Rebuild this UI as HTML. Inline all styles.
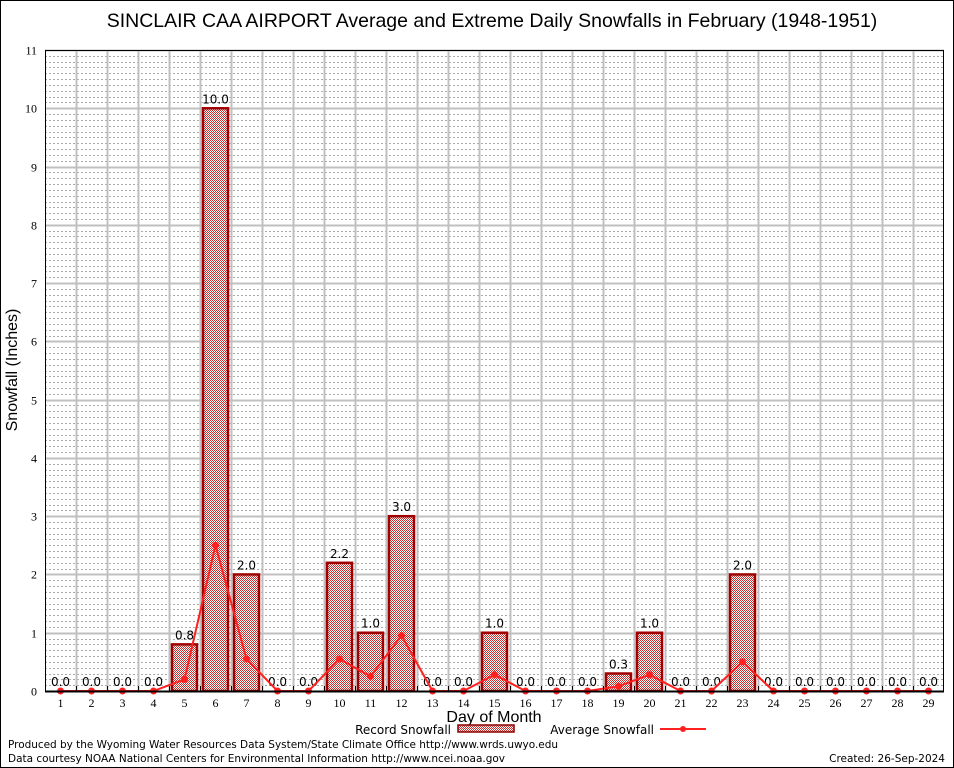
<!DOCTYPE html>
<html><head><meta charset="utf-8"><style>
body{margin:0;background:#fff;}
svg{display:block;font-family:"DejaVu Sans","Liberation Sans",sans-serif;}
</style></head><body>
<svg id="chart" width="954" height="768" viewBox="0 0 954 768">
<defs>
<pattern id="hatch" width="2" height="2" patternUnits="userSpaceOnUse">
<rect width="2" height="2" fill="#fff" shape-rendering="crispEdges"/>
<rect width="1" height="1" fill="#c83030" shape-rendering="crispEdges"/>
<rect x="1" y="1" width="1" height="1" fill="#c83030" shape-rendering="crispEdges"/>
</pattern>
</defs>
<rect x="0.5" y="0.5" width="953" height="767" fill="#fff" stroke="#000"/>
<text x="492" y="27" font-size="19.5" text-anchor="middle" font-family="Liberation Sans, sans-serif">SINCLAIR CAA AIRPORT Average and Extreme Daily Snowfalls in February (1948-1951)</text>
<g id="grid"></g>
<g id="bars"></g>
<g id="line"></g>
<g id="axes"></g>
<text x="17" y="370" font-size="16" text-anchor="middle" transform="rotate(-90 17 370)" font-family="Liberation Sans, sans-serif">Snowfall (Inches)</text>
<text x="494" y="722" font-size="16" text-anchor="middle" font-family="Liberation Sans, sans-serif">Day of Month</text>
<g>
<text x="451" y="734" font-size="12" text-anchor="end">Record Snowfall</text>
<rect x="458" y="725" width="56" height="7" fill="url(#hatch)" stroke="#8b0000" stroke-width="1.5"/>
<text x="654" y="734" font-size="12" text-anchor="end">Average Snowfall</text>
<line x1="660" y1="729" x2="706" y2="729" stroke="#ff2020" stroke-width="2"/>
<circle cx="683" cy="729" r="3" fill="#ff2020"/>
</g>
<text x="8" y="748" font-size="10.5" textLength="550">Produced by the Wyoming Water Resources Data System/State Climate Office http://www.wrds.uwyo.edu</text>
<text x="8" y="762" font-size="10.5" textLength="497">Data courtesy NOAA National Centers for Environmental Information http://www.ncei.noaa.gov</text>
<text x="945" y="762" font-size="10.5" text-anchor="end">Created:  26-Sep-2024</text>
</svg>
<script>
const days=[1,2,3,4,5,6,7,8,9,10,11,12,13,14,15,16,17,18,19,20,21,22,23,24,25,26,27,28,29];
const recordVals=[0,0,0,0,0.8,10,2,0,0,2.2,1,3,0,0,1,0,0,0,0.3,1,0,0,2,0,0,0,0,0,0];
const avgVals=[0,0,0,0,0.2,2.5,0.55,0,0,0.55,0.25,0.95,0,0,0.28,0,0,0,0.08,0.28,0,0,0.5,0,0,0,0,0,0];
const yTicks=[0,1,2,3,4,5,6,7,8,9,10,11];

const L=45,R=944,T=50,B=691,yMax=11;
const slot=(R-L)/days.length;
const x=d=>L+(d-0.5)*slot;
const y=v=>B-(v/yMax)*(B-T);
const NS="http://www.w3.org/2000/svg";
function mk(tag,attrs,parent){const e=document.createElementNS(NS,tag);for(const k in attrs)e.setAttribute(k,attrs[k]);parent.appendChild(e);return e;}
const grid=document.getElementById('grid'),bars=document.getElementById('bars'),line=document.getElementById('line'),axes=document.getElementById('axes');

for(let v=0;v<yMax;v+=0.1){
  const yy=Math.round(y(v))+0.5;
  const g=mk('line',{x1:L,x2:R,y1:yy,y2:yy,stroke:'#aaa','stroke-width':1,'stroke-dasharray':'2,2'},grid);
  
  
}
yTicks.forEach(v=>{
  const yy=Math.round(y(v))+0.5;
  const g=mk('line',{x1:L,x2:R,y1:yy,y2:yy,stroke:'#c0c0c0','stroke-width':2},grid);
  
  
  const t=mk('text',{x:L-8,y:yy+4,'font-size':12,'text-anchor':'end','font-family':'Liberation Serif, serif'},axes);
  t.textContent=v;
  
  
});
for(let i=1;i<days.length;i++){
  const xx=Math.round(L+i*slot)+0.5;
  const g=mk('line',{x1:xx,x2:xx,y1:T,y2:B,stroke:'#c0c0c0','stroke-width':2},grid);
  
  
}
days.forEach((d,i)=>{
  const v=recordVals[i];
  if(v>0){
    const r=mk('rect',{x:x(d)-12.5,y:y(v),width:25,height:B-y(v),fill:'url(#hatch)',stroke:'#a00000','stroke-width':2.5},bars);
    
    
  }
  const t=mk('text',{x:x(d),y:y(v)-5,'font-size':12,'text-anchor':'middle'},bars);
  t.textContent=v.toFixed(1);
  
  
  const xl=mk('text',{x:x(d),y:B+16,'font-size':12,'text-anchor':'middle','font-family':'Liberation Serif, serif'},axes);
  xl.textContent=d;
  
  
  const tk=mk('line',{x1:Math.round(L+i*slot)+0.5,x2:Math.round(L+i*slot)+0.5,y1:B,y2:B-5,stroke:'#000'},axes);
  
  
});
const pl=mk('polyline',{points:days.map((d,i)=>x(d)+','+y(avgVals[i])).join(' '),fill:'none',stroke:'#ff2020','stroke-width':2},line);


days.forEach((d,i)=>{
  const c=mk('circle',{cx:x(d),cy:y(avgVals[i]),r:3.5,fill:'#ff2020'},line);
  
  
});
const fr=mk('rect',{x:L+0.5,y:T+0.5,width:R-L-1,height:B-T,fill:'none',stroke:'#000','stroke-width':1},axes);


const xa=mk('line',{x1:L,x2:R,y1:B+0.5,y2:B+0.5,stroke:'#000','stroke-width':2},axes);


</script>
</body></html>
